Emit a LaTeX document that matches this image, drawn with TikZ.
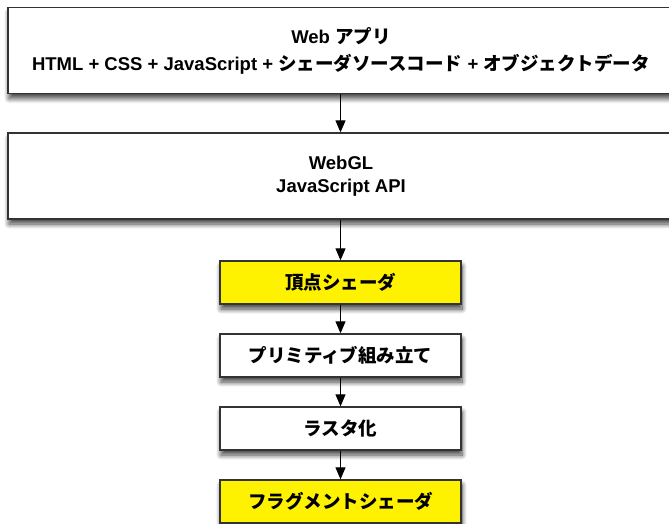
\documentclass[tikz,border=0pt]{standalone}
\usepackage{fontspec}
\setmainfont{Liberation Sans}
\newfontfamily\jp{Noto Sans CJK JP}
\usetikzlibrary{arrows.meta,shadows.blur}
\tikzset{
  box/.style={draw=black!80, line width=1.3pt, fill=white, minimum width=241pt, minimum height=43pt,
    inner sep=0pt, font=\bfseries\fontsize{18.5}{22}\selectfont, align=center,
    blur shadow={shadow xshift=1pt, shadow yshift=-5pt, shadow blur steps=10, shadow blur radius=5pt, shadow opacity=75}},
  widebox/.style={box, minimum width=666pt, minimum height=86pt},
  shader/.style={box, fill=yellow},
  flow/.style={line width=1pt, -{Triangle[length=12pt,width=10pt]}}
}
\begin{document}
\begin{tikzpicture}[x=1pt,y=-1pt]
\useasboundingbox (0,0) rectangle (669,524);
\begin{scope}
\clip (0,0) rectangle (669,524);
\node[widebox] (app) at (341,50.5) {Web {\jp アプリ}\\[5pt]HTML + CSS + JavaScript + {\jp シェーダソースコード} + {\jp オブジェクトデータ}};
\node[widebox] (gl) at (341,176) {WebGL\\[1pt]JavaScript API};
\node[shader] (vs) at (340.5,282.5) {\jp 頂点シェーダ};
\node[box] (prim) at (340.5,355.5) {\jp プリミティブ組み立て};
\node[box] (rast) at (340.5,428.5) {\jp ラスタ化};
\node[shader] (fs) at (340.5,501.5) {\jp フラグメントシェーダ};
\draw[flow] (app.south -| vs) -- (gl.north -| vs);
\draw[flow] (gl.south -| vs) -- (vs.north);
\draw[flow] (vs) -- (prim);
\draw[flow] (prim) -- (rast);
\draw[flow] (rast) -- (fs);
\end{scope}
\end{tikzpicture}
\end{document}
